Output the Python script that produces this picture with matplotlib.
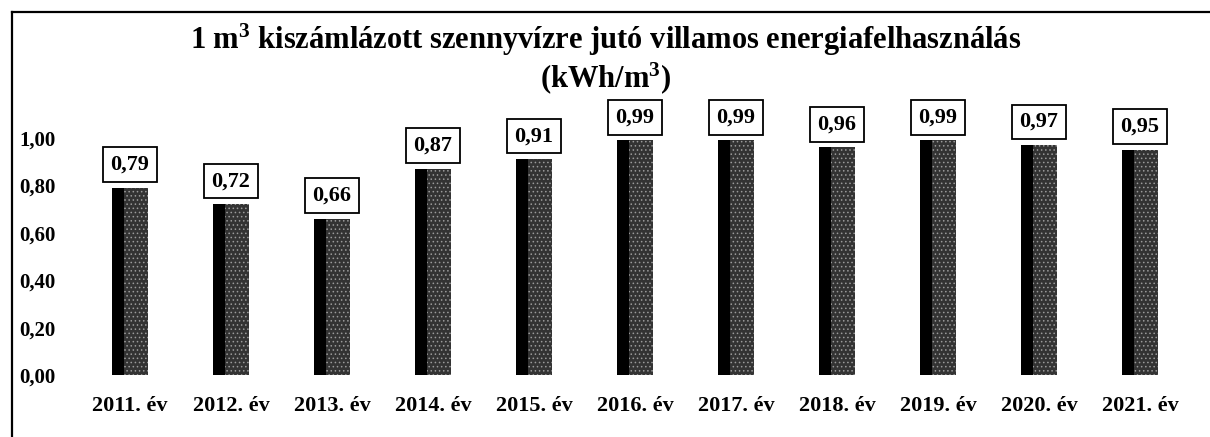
import matplotlib
matplotlib.use("Agg")
import matplotlib.pyplot as plt
from matplotlib.lines import Line2D

years = ["2011. év", "2012. év", "2013. év", "2014. év", "2015. év", "2016. év",
         "2017. év", "2018. év", "2019. év", "2020. év", "2021. év"]
values = [0.79, 0.72, 0.66, 0.87, 0.91, 0.99, 0.99, 0.96, 0.99, 0.97, 0.95]
value_labels = ["0,79", "0,72", "0,66", "0,87", "0,91", "0,99", "0,99", "0,96", "0,99", "0,97", "0,95"]
yticks = [0.0, 0.2, 0.4, 0.6, 0.8, 1.0]
ytick_labels = ["0,00", "0,20", "0,40", "0,60", "0,80", "1,00"]
title = "1 m$^3$ kiszámlázott szennyvízre jutó villamos energiafelhasználás\n(kWh/m$^3$)"

plt.rcParams["font.family"] = ["Liberation Serif", "DejaVu Serif"]
plt.rcParams["font.weight"] = "bold"
plt.rcParams["mathtext.fontset"] = "custom"
plt.rcParams["mathtext.rm"] = "Liberation Serif:bold"
plt.rcParams["mathtext.it"] = "Liberation Serif:bold"
plt.rcParams["hatch.color"] = "#9a9a9a"
plt.rcParams["hatch.linewidth"] = 0.6

W, H = 1210, 437
fig = plt.figure(figsize=(W / 100, H / 100), dpi=100)
fig.patch.set_facecolor("white")

ax_left = 79.5 / W
ax_right = 1190.5 / W
ax_bottom = 62 / H
ymax = 1.1
ax_height = 237 * ymax / H
ax = fig.add_axes([ax_left, ax_bottom, ax_right - ax_left, ax_height])

x = list(range(len(years)))
bw = 0.35
dark_frac = 0.32
lefts = [i - bw / 2 for i in x]
ax.bar(lefts, values, width=bw, align="edge", color="black", linewidth=0)
ax.bar([l + bw * dark_frac for l in lefts], values, width=bw * (1 - dark_frac),
       align="edge", color="#333333", hatch="....", linewidth=0)

for i, (v, lab) in enumerate(zip(values, value_labels)):
    ax.annotate(lab, (i, v), xytext=(0, 9.5), textcoords="offset points",
                ha="center", va="bottom", fontsize=16, fontweight="bold",
                bbox=dict(boxstyle="square,pad=0.33", fc="white", ec="black", lw=1.3))

ax.set_xlim(-0.5, len(years) - 0.5)
ax.set_ylim(0, ymax)
ax.set_yticks(yticks)
ax.set_yticklabels(ytick_labels, fontsize=15, fontweight="bold")
ax.set_xticks(x)
ax.set_xticklabels(years, fontsize=16, fontweight="bold")
ax.tick_params(axis="y", length=0, pad=17)
ax.tick_params(axis="x", length=0, pad=15)
for s in ax.spines.values():
    s.set_visible(False)
ax.set_facecolor("none")

fig.text(606 / W, 1 - 59 / H, title, ha="center", va="center", fontsize=22,
         fontweight="bold", linespacing=1.08)

# outer frame lines
fig.add_artist(Line2D([12 / W, 1.0], [1 - 12 / H, 1 - 12 / H], color="black", lw=1.6))
fig.add_artist(Line2D([12 / W, 12 / W], [0, 1 - 12 / H], color="black", lw=1.6))

fig.savefig("out.png", dpi=100)
